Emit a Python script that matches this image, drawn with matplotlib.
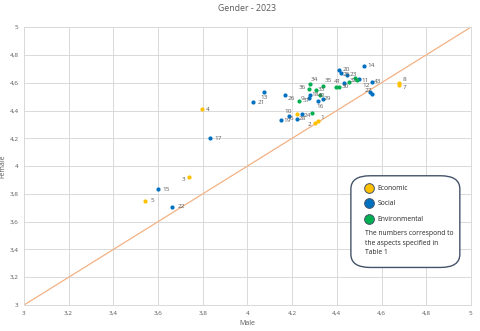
import matplotlib
matplotlib.use("Agg")
import matplotlib.pyplot as plt
from matplotlib.patches import FancyBboxPatch
from matplotlib.lines import Line2D

# --- data (Male score, Female score) ---
econ_labels = ["1", "2", "3", "4", "5", "6", "7", "8"]
econ_male = [4.315, 4.304, 3.737, 3.795, 3.543, 4.220, 4.679, 4.679]
econ_female = [4.324, 4.309, 3.923, 4.408, 3.750, 4.372, 4.586, 4.595]

soc_labels = ["9", "10", "11", "12", "13", "14", "15", "16", "17", "18", "19",
              "20", "21", "22", "23", "24", "25", "26", "27", "28", "29", "41", "43"]
soc_male = [4.275, 4.187, 4.498, 4.550, 4.074, 4.521, 3.601, 4.315, 3.832, 4.280, 4.149,
            4.411, 4.026, 3.664, 4.445, 4.242, 4.418, 4.169, 4.556, 4.224, 4.336, 4.431, 4.556]
soc_female = [4.489, 4.360, 4.624, 4.530, 4.530, 4.723, 3.835, 4.471, 4.199, 4.511, 4.331,
              4.692, 4.458, 3.707, 4.658, 4.372, 4.669, 4.511, 4.516, 4.342, 4.486, 4.600, 4.606]

env_labels = ["30", "31", "32", "33", "34", "35", "36", "37", "38", "39", "40", "42"]
env_male = [4.409, 4.398, 4.454, 4.306, 4.280, 4.339, 4.275, 4.232, 4.287, 4.481, 4.324, 4.489]
env_female = [4.571, 4.571, 4.606, 4.550, 4.590, 4.578, 4.552, 4.470, 4.385, 4.631, 4.511, 4.622]

# label placement (pixel offset of label centre from its point); None = label not visible
label_offsets = {
    "1": (4, -4), "2": (-6, 1), "3": (-5, 3), "4": (6, 0), "5": (7, 0), "6": (-5, 4),
    "7": (5, 3), "8": (5, -4),
    "9": (-6, 0), "10": (-1, -5), "11": (6, 1.5), "12": (-4, -7), "13": (0, 5),
    "14": (7, 0), "15": (8, 0), "16": (2, 6), "17": (8, 0), "18": (5, -1),
    "19": (6, 0), "20": (7, 0), "21": (8, 0), "22": (9, 0), "23": (6, 0),
    "24": (6, 1.5), "25": (5, 1), "26": (6, 3), "27": (-3, -4), "28": (5, 0),
    "29": (5, 0), "41": (-6, -1), "43": (6, 0),
    "30": (7, 0), "31": None, "32": (5, -1), "33": (6, 0), "34": (4, -4.5),
    "35": (5, -5), "36": (-7, -1.5), "37": (7, 0), "38": None, "39": None,
    "40": (2, 0), "42": None,
}

C_ECON = "#FFC000"
C_SOC = "#0070C0"
C_ENV = "#00B050"
TXT = "#595959"

plt.rcParams["font.family"] = ["Open Sans", "DejaVu Sans"]

fig = plt.figure(figsize=(4.8, 3.31), dpi=100)
ax = fig.add_axes([0.05, 0.0785, 0.931, 0.8395])

# y = x reference line
ax.plot([3, 5], [3, 5], color="#F4B183", lw=0.9, zorder=2)

for xs, ys, col in [(soc_male, soc_female, C_SOC),
                    (env_male, env_female, C_ENV),
                    (econ_male, econ_female, C_ECON)]:
    ax.scatter(xs, ys, s=9, color=col, linewidths=0, zorder=3)

px2pt = 72 / 100
for labels, xs, ys in [(econ_labels, econ_male, econ_female),
                       (soc_labels, soc_male, soc_female),
                       (env_labels, env_male, env_female)]:
    for lab, x, y in zip(labels, xs, ys):
        off = label_offsets.get(lab)
        if off is None:
            continue
        ax.annotate(lab, (x, y), xytext=(off[0] * px2pt, -off[1] * px2pt),
                    textcoords="offset points", ha="center", va="center",
                    fontsize=4.6, color=TXT, zorder=4)

ax.set_xlim(3, 5)
ax.set_ylim(3, 5)
ticks = [3 + 0.2 * i for i in range(11)]
ticklabels = ["3", "3,2", "3,4", "3,6", "3,8", "4", "4,2", "4,4", "4,6", "4,8", "5"]
ax.set_xticks(ticks)
ax.set_xticklabels(ticklabels)
ax.set_yticks(ticks)
ax.set_yticklabels(ticklabels)
ax.tick_params(length=0, labelsize=4.6, colors=TXT, pad=4)
ax.grid(True, color="#D9D9D9", lw=0.7)
ax.set_axisbelow(True)
for s in ax.spines.values():
    s.set_color("#D9D9D9")
    s.set_linewidth(0.7)

ax.set_xlabel("Male", fontsize=5, color=TXT, labelpad=3)
ax.set_ylabel("Female", fontsize=5, color=TXT, labelpad=2)
fig.text(0.514, 0.973, "Gender - 2023", ha="center", va="center", fontsize=6.3, color=TXT)

# legend box
box = FancyBboxPatch((0.731, 0.192), 0.227, 0.277, transform=fig.transFigure,
                     boxstyle="round,pad=0.0,rounding_size=0.04",
                     facecolor="white", edgecolor="#44546A", lw=1.0, zorder=5)
fig.add_artist(box)
items = [("Economic", C_ECON, 0.431), ("Social", C_SOC, 0.386), ("Environmental", C_ENV, 0.337)]
for name, col, yy in items:
    fig.add_artist(Line2D([0.769], [yy], marker="o", markersize=7, color=col,
                          markeredgecolor="#44546A", markeredgewidth=0.7,
                          transform=fig.transFigure, zorder=6))
    fig.text(0.787, yy, name, ha="left", va="center", fontsize=4.9, color="#262626", zorder=6)
fig.text(0.760, 0.305, "The numbers correspond to\nthe aspects specified in\nTable 1",
         ha="left", va="top", fontsize=4.9, color="#262626", linespacing=1.5, zorder=6)

fig.savefig("out.png", dpi=100)
